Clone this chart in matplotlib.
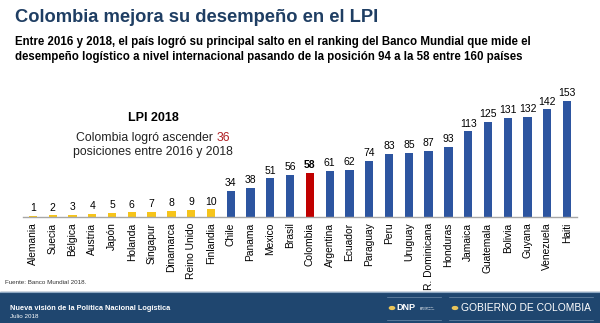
import matplotlib.pyplot as plt
from matplotlib.patches import Rectangle, Circle
from matplotlib.lines import Line2D

plt.rcParams['font.family'] = ['Liberation Sans', 'DejaVu Sans']

# LPI 2018 ranking positions
paises = ['Alemania', 'Suecia', 'Bélgica', 'Austria', 'Japón', 'Holanda',
          'Singapur', 'Dinamarca', 'Reino Unido', 'Finlandia', 'Chile',
          'Panama', 'Mexico', 'Brasil', 'Colombia', 'Argentina', 'Ecuador',
          'Paraguay', 'Peru', 'Uruguay', 'R. Dominicana', 'Honduras',
          'Jamaica', 'Guatemala', 'Bolivia', 'Guyana', 'Venezuela', 'Haiti']
posiciones = [1, 2, 3, 4, 5, 6, 7, 8, 9, 10, 34, 38, 51, 56, 58, 61, 62,
              74, 83, 85, 87, 93, 113, 125, 131, 132, 142, 153]
grupo = ['top'] * 10 + ['latam'] * 4 + ['col'] + ['latam'] * 13

colores = {'top': '#F6C41A', 'latam': '#2D55A0', 'col': '#C00000'}
azul_oscuro = '#1F3E63'

fig = plt.figure(figsize=(6, 3.23), dpi=100)
W, H = 600, 323

ax = fig.add_axes([23 / W, (H - 217) / H, 554 / W, 151.6 / H])
x = range(len(paises))
ax.bar(x, posiciones, width=0.42, color=[colores[g] for g in grupo])
ax.set_xlim(-0.5, len(paises) - 0.5)
ax.set_ylim(0, 200)

for i, v in enumerate(posiciones):
    ax.annotate(str(v), (i, v), xytext=(0, 2), textcoords='offset points',
                ha='center', va='bottom', fontsize=7.5,
                fontweight='bold' if grupo[i] == 'col' else 'normal')

ax.set_xticks(list(x))
ax.set_xticklabels(paises, rotation=90, fontsize=7.4)
ax.tick_params(axis='x', length=0, pad=4)
ax.set_yticks([])
for s in ['top', 'right', 'left']:
    ax.spines[s].set_visible(False)
ax.spines['bottom'].set_color('#A6A6A6')
ax.spines['bottom'].set_linewidth(1)

# titles
fig.text(15 / W, 1 - 17 / H, 'Colombia mejora su desempeño en el LPI',
         fontsize=13.2, fontweight='bold', color=azul_oscuro, va='center')
fig.text(15 / W, 1 - 42 / H,
         'Entre 2016 y 2018, el país logró su principal salto en el ranking '
         'del Banco Mundial que mide el', fontsize=8.3, fontweight='bold',
         va='center')
fig.text(15 / W, 1 - 57 / H,
         'desempeño logístico a nivel internacional pasando de la posición '
         '94 a la 58 entre 160 países', fontsize=8.3, fontweight='bold',
         va='center')

# chart annotation, "36" in red on the first line
fig.text(153 / W, 1 - 118 / H, 'LPI 2018', fontsize=9, fontweight='bold',
         ha='center', va='center')
parte1 = 'Colombia logró ascender '
t1 = fig.text(0, 1 - 138 / H, parte1, fontsize=8.8, ha='left',
              va='center', color='#222222')
t2 = fig.text(0, 1 - 138 / H, '36', fontsize=8.8, color='#B01E23',
              ha='left', va='center')
fig.canvas.draw()
w1 = t1.get_window_extent().width
w2 = t2.get_window_extent().width
x0 = 153 - (w1 + w2) / 2
t1.set_x(x0 / W)
t2.set_x((x0 + w1) / W)
fig.text(153 / W, 1 - 152 / H, 'posiciones entre 2016 y 2018', fontsize=8.8,
         ha='center', va='center', color='#222222')

fig.text(5 / W, 1 - 283 / H, 'Fuente: Banco Mundial 2018.', fontsize=4.5,
         va='center', color='#333333')

# footer band
fig.patches.append(Rectangle((0, 0), 1, 31 / H, transform=fig.transFigure,
                             color='#1F466F', zorder=0))
fig.lines.append(Line2D([0, 1], [31.5 / H, 31.5 / H], transform=fig.transFigure,
                        color='#8FA8C2', lw=0.8))
fig.text(10 / W, 1 - 308 / H, 'Nueva visión de la Política Nacional Logística',
         fontsize=5.3, fontweight='bold', color='white', va='center')
fig.text(10 / W, 1 - 317 / H, 'Julio 2018', fontsize=4.5, color='white',
         va='center')

# logos
for xa, xb in [(387, 441), (449, 593)]:
    for yy in [296.5, 320]:
        fig.lines.append(Line2D([xa / W, xb / W], [1 - yy / H, 1 - yy / H],
                                transform=fig.transFigure, color='#6F8CAB',
                                lw=0.5))
for cx in [392, 455]:
    fig.patches.append(Circle((cx / W, 1 - 308 / H), 2.6 / W,
                              transform=fig.transFigure, color='#E8C45A'))
fig.text(396.5 / W, 1 - 308 / H, 'DNP', fontsize=6.5, fontweight='bold',
         color='white', va='center')
fig.text(420 / W, 1 - 308 / H, 'Departamento\nNacional\nde Planeación',
         fontsize=1.6, color='white', va='center', linespacing=1.0)
fig.text(461 / W, 1 - 308 / H, 'GOBIERNO DE COLOMBIA', fontsize=7.4,
         color='white', va='center')

fig.savefig('out.png', dpi=100)
